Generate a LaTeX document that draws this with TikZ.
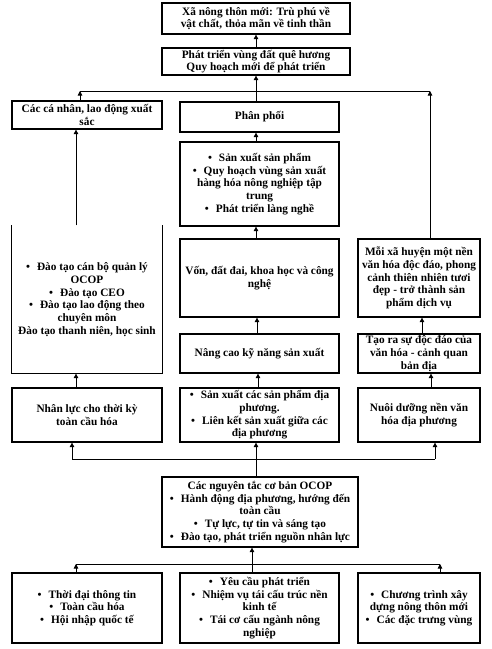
\documentclass[tikz,border=0pt]{standalone}
\usepackage{fontspec}
\setmainfont{Liberation Serif}
\usetikzlibrary{arrows.meta}
\tikzset{
	box/.style={draw, line width=1.2pt, align=center, inner sep=0pt, font=\bfseries\fontsize{11.3}{12.7}\selectfont},
	openbox/.style={box, draw=none},
	link/.style={line width=0.6pt},
	arr/.style={link, -{Triangle[length=4.5pt,width=4.5pt]}},
}
\newcommand{\bul}{\textbullet\hspace{7pt}}
\begin{document}
\begin{tikzpicture}[x=1pt,y=-1pt]
	\useasboundingbox (0,0) rectangle (491,649);
	% top two levels
	\node[box, minimum width=188pt, minimum height=31pt] (xa) at (256,18.5) {Xã nông thôn mới: Trù phú về\\vật chất, thỏa mãn về tinh thần};
	\node[box, minimum width=188pt, minimum height=27pt] (que) at (256,61.5) {Phát triển vùng đất quê hương\\Quy hoạch mới để phát triển};
	% left column
	\node[box, minimum width=150pt, minimum height=28pt] (canhan) at (87,115) {Các cá nhân, lao động xuất\\sắc};
	\node[openbox, minimum width=150pt, minimum height=147pt] (daotao) at (87,299.5) {\bul Đào tạo cán bộ quản lý\\OCOP\\\bul Đào tạo CEO\\\bul Đào tạo lao động theo\\chuyên môn\\Đào tạo thanh niên, học sinh};
	\draw[line width=1.2pt] (daotao.north west) -- (daotao.south west) -- (daotao.south east) -- (daotao.north east);
	\node[box, minimum width=150pt, minimum height=54pt] (nhanluc) at (87,415) {Nhân lực cho thời kỳ\\toàn cầu hóa};
	% middle column
	\node[box, minimum width=159pt, minimum height=30pt] (phanphoi) at (259.5,117) {Phân phối};
	\node[box, minimum width=159pt, minimum height=84pt] (sanxuat) at (259.5,184) {\bul Sản xuất sản phẩm\\\bul Quy hoạch vùng sản xuất\\hàng hóa nông nghiệp tập\\trung\\\bul Phát triển làng nghề};
	\node[box, minimum width=159pt, minimum height=78pt] (von) at (259.5,278) {Vốn, đất đai, khoa học và công\\nghệ};
	\node[box, minimum width=159pt, minimum height=39pt] (nangcao) at (259.5,353.5) {Nâng cao kỹ năng sản xuất};
	\node[box, minimum width=159pt, minimum height=54pt] (sxcac) at (259.5,415) {\bul Sản xuất các sản phẩm địa\\phương.\\\bul Liên kết sản xuất giữa các\\địa phương};
	% right column
	\node[box, minimum width=122pt, minimum height=78pt] (moixa) at (419,278) {Mỗi xã huyện một nền\\văn hóa độc đáo, phong\\cảnh thiên nhiên tươi\\đẹp - trở thành sản\\phẩm dịch vụ};
	\node[box, minimum width=122pt, minimum height=39pt] (taora) at (419,353.5) {Tạo ra sự độc đáo của\\văn hóa - cảnh quan\\bản địa};
	\node[box, minimum width=122pt, minimum height=54pt] (nuoi) at (419,415) {Nuôi dưỡng nền văn\\hóa địa phương};
	% principles and inputs
	\node[box, minimum width=196pt, minimum height=70pt] (nguyentac) at (260,512) {Các nguyên tắc cơ bản OCOP\\\bul Hành động địa phương, hướng đến\\toàn cầu\\\bul Tự lực, tự tin và sáng tạo\\\bul Đào tạo, phát triển nguồn nhân lực};
	\node[box, minimum width=150pt, minimum height=70pt] (thoidai) at (87,608) {\bul Thời đại thông tin\\\bul Toàn cầu hóa\\\bul Hội nhập quốc tế};
	\node[box, minimum width=159pt, minimum height=70pt] (yeucau) at (259.5,608) {\bul Yêu cầu phát triển\\\bul Nhiệm vụ tái cấu trúc nền\\kinh tế\\\bul Tái cơ cấu ngành nông\\nghiệp};
	\node[box, minimum width=122pt, minimum height=70pt] (chuongtrinh) at (419,608) {\bul Chương trình xây\\dựng nông thôn mới\\\bul Các đặc trưng vùng};
	% bus lines
	\coordinate (busAL) at (80,91);
	\coordinate (busAR) at (430,91);
	\coordinate (busBL) at (72,459);
	\coordinate (busBR) at (435,459);
	\coordinate (busCL) at (76,564);
	\coordinate (busCR) at (440,564);
	\draw[link] (busAL) -- (busAR);
	\draw[link] (busBL) -- (busBR);
	\draw[link] (busCL) -- (busCR);
	% arrows up the tree
	\draw[arr] (que.north) -- (xa.south);
	\draw[arr] (que.south |- phanphoi.north) -- (que.south);
	\draw[arr] (canhan.north -| busAL) -- (busAL);
	\draw[arr] (moixa.north -| busAR) -- (busAR);
	\draw[arr] (daotao.north -| 76,0) -- (canhan.south -| 76,0);
	\draw[arr] (sanxuat.north -| 256,0) -- (phanphoi.south -| 256,0);
	\draw[arr] (von.north -| 256,0) -- (sanxuat.south -| 256,0);
	\draw[arr] (nangcao.north -| 257,0) -- (von.south -| 257,0);
	\draw[arr] (taora.north -| 422,0) -- (moixa.south -| 422,0);
	\draw[arr] (nhanluc.north -| 76,0) -- (daotao.south -| 76,0);
	\draw[arr] (sxcac.north -| 258,0) -- (nangcao.south -| 258,0);
	\draw[arr] (nuoi.north -| 431,0) -- (taora.south -| 431,0);
	\draw[arr] (busBL) -- (nhanluc.south -| busBL);
	\draw[arr] (busBR) -- (nuoi.south -| busBR);
	\draw[arr] (nguyentac.north -| 256,0) -- (sxcac.south -| 256,0);
	\draw[arr] (thoidai.north -| busCL) -- (busCL);
	\draw[arr] (chuongtrinh.north -| busCR) -- (busCR);
	\draw[arr] (yeucau.north -| 252,0) -- (nguyentac.south -| 252,0);
\end{tikzpicture}
\end{document}
